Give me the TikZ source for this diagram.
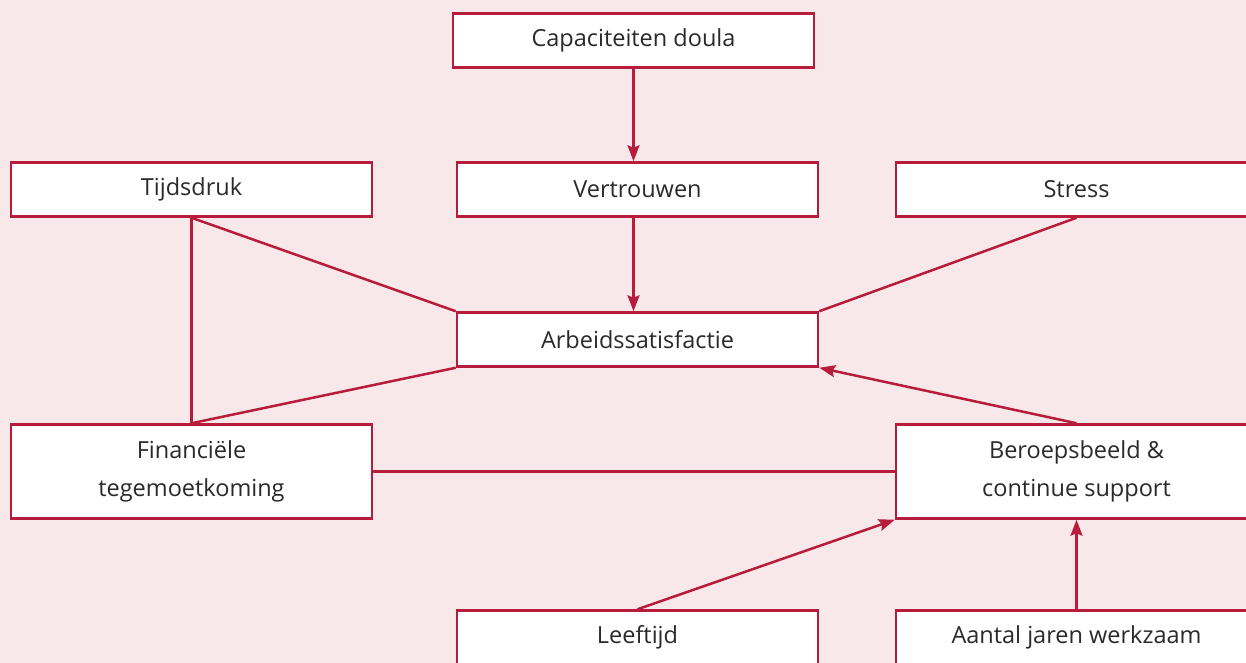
\documentclass[tikz,border=0pt]{standalone}
\usepackage{fontspec}
\setmainfont{Open Sans}
\usetikzlibrary{positioning, arrows.meta}
\definecolor{framered}{HTML}{B71C3C}
\definecolor{backpink}{HTML}{F9E8E9}
\definecolor{textgrey}{HTML}{2A2A2A}

\begin{document}
\begin{tikzpicture}[x=1pt, y=1pt]
            % Block styles
            \tikzstyle{block} = [rectangle, draw=framered, fill=white, line width=2.5pt, text=textgrey, align=center, minimum width=361pt, minimum height=54pt, font=\fontsize{23.5}{38}\selectfont]
            \tikzstyle{block_tall} = [block, minimum height=94pt]
            \tikzstyle{link} = [draw=framered, line width=2.5pt]
            \tikzstyle{arrow} = [link, -{Stealth[length=16pt, width=12pt, inset=2.5pt]}]
            % Background
            \fill[backpink] (0,0) rectangle (1246,-663);
            \clip (0,0) rectangle (1246,-663);
            % Blocks
            \node[block] (vertrouwen) at (637.5,-189.5) {Vertrouwen};
            \node[block, above=92.5pt of vertrouwen, xshift=-4pt] (capaciteiten) {Capaciteiten doula};
            \node[block, left=82.5pt of vertrouwen] (tijdsdruk) {Tijdsdruk};
            \node[block, right=75.5pt of vertrouwen] (stress) {Stress};
            \node[block, below=93.5pt of vertrouwen] (arbeid) {Arbeidssatisfactie};
            \node[block_tall, below=205.5pt of tijdsdruk] (financieel) {Financiële\\tegemoetkoming};
            \node[block_tall, below=205.5pt of stress] (beroeps) {Beroepsbeeld \&\\continue support};
            \node[block, below=241.5pt of arbeid] (leeftijd) {Leeftijd};
            \node[block, below=89.5pt of beroeps] (jaren) {Aantal jaren werkzaam};
            % Connections
            \draw[arrow] (capaciteiten) -- (capaciteiten |- vertrouwen.north);
            \draw[arrow] (vertrouwen.south -| capaciteiten) -- (arbeid.north -| capaciteiten);

            \draw[link] (tijdsdruk.south) -- (arbeid.north west);
            \draw[link] (tijdsdruk.south) -- (financieel.north);
            \draw[link] (financieel.north) -- (arbeid.south west);
            \draw[link] (stress.south) -- (arbeid.north east);
            \draw[arrow] (beroeps.north) -- (arbeid.south east);
            \draw[link] (financieel) -- (beroeps);

            \draw[arrow] (leeftijd.north) -- (beroeps.south west);
            \draw[arrow] (jaren) -- (beroeps);
        \end{tikzpicture}
\end{document}
